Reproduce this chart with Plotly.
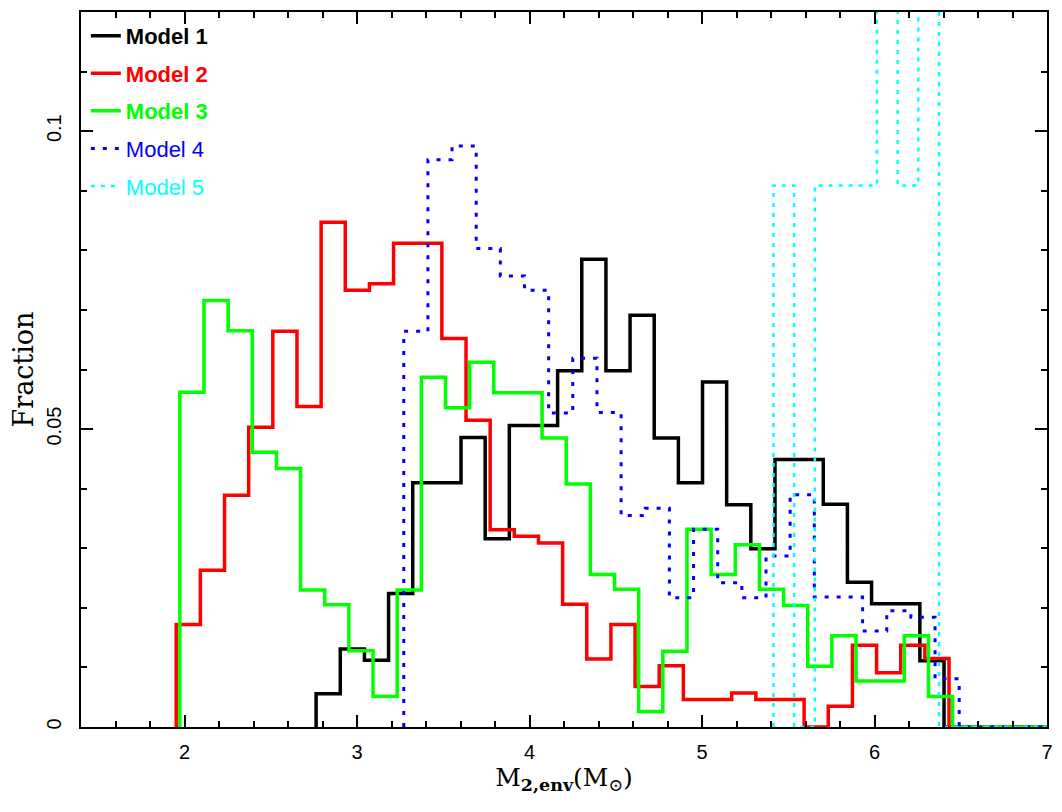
import numpy as np
import plotly.graph_objects as go

# histogram fractions per model
BIN_WIDTH = 0.14
X_MAX = 7.0

model_names = ["Model 1", "Model 2", "Model 3", "Model 4", "Model 5"]
model_colors = ["#000000", "#ff0000", "#00ff00", "#0000ff", "#00ffff"]

black_start = 2.763
black_values = [0.0056, 0.0131, 0.0112, 0.0224, 0.0410, 0.0410, 0.0486, 0.0316, 0.0506,
                0.0506, 0.0598, 0.0785, 0.0598, 0.0691, 0.0485, 0.0410, 0.0579, 0.0373,
                0.0299, 0.0449, 0.0449, 0.0374, 0.0243, 0.0207, 0.0207, 0.0111]

red_start = 1.952
red_values = [0.0172, 0.0263, 0.0389, 0.0503, 0.0664, 0.0538, 0.0847, 0.0733, 0.0744,
              0.0812, 0.0812, 0.0652, 0.0515, 0.0331, 0.0320, 0.0309, 0.0206, 0.0114,
              0.0172, 0.0068, 0.0103, 0.0046, 0.0046, 0.0057, 0.0046, 0.0046, 0.0,
              0.0035, 0.0137, 0.0091, 0.0137, 0.0115]

green_start = 1.973
green_values = [0.0562, 0.0716, 0.0665, 0.0461, 0.0434, 0.0230, 0.0205, 0.0128, 0.0051,
                0.0230, 0.0587, 0.0536, 0.0612, 0.0561, 0.0561, 0.0485, 0.0408, 0.0256,
                0.0231, 0.0026, 0.0127, 0.0332, 0.0256, 0.0306, 0.0231, 0.0204, 0.0102,
                0.0153, 0.0077, 0.0077, 0.0153, 0.0051]

blue_start = 3.271
blue_values = [0.0664, 0.0952, 0.0975, 0.0803, 0.0757, 0.0733, 0.0527, 0.0619, 0.0528,
               0.0355, 0.0367, 0.0217, 0.0332, 0.0242, 0.0217, 0.0287, 0.0390, 0.0218,
               0.0218, 0.0161, 0.0195, 0.0184, 0.0081]

# model 5 has few systems and a narrower binning; two bins run off the top
cyan_start = 5.414
cyan_width = 0.12
cyan_values = [0.0909, 0.0, 0.0909, 0.0909, 0.0909, 0.2727, 0.0909, 0.2727]

x_tick_vals = [2, 3, 4, 5, 6, 7]
y_tick_vals = [0, 0.05, 0.1]


def step_xy(start, width, values):
    edges = start + width * np.arange(len(values) + 1)
    xs = [edges[0]] + list(edges[:-1]) + [edges[-1], X_MAX]
    ys = [0.0] + list(values) + [0.0, 0.0]
    return xs, ys


series = [
    (black_start, BIN_WIDTH, black_values, "solid", 3.5, True),
    (red_start, BIN_WIDTH, red_values, "solid", 3.5, True),
    (green_start, BIN_WIDTH, green_values, "solid", 3.5, True),
    (blue_start, BIN_WIDTH, blue_values, "4px,8px", 3, False),
    (cyan_start, cyan_width, cyan_values, "4px,6px", 2.5, False),
]

fig = go.Figure()
for i, (start, width, values, dash, lw, bold) in enumerate(series):
    xs, ys = step_xy(start, width, values)
    label = f"<span style='color:{model_colors[i]}'>{model_names[i]}</span>"
    if bold:
        label = f"<b>{label}</b>"
    fig.add_trace(
        go.Scatter(
            x=xs,
            y=ys,
            mode="lines",
            line={"color": model_colors[i], "width": lw, "dash": dash, "shape": "hv"},
            name=label,
            legendgroup=f"m{i}",
            hoverinfo="skip",
        )
    )

axis_common = dict(
    showgrid=False,
    zeroline=False,
    showline=True,
    linecolor="black",
    linewidth=2,
    mirror="allticks",
    ticks="inside",
    tickwidth=1.5,
    tickcolor="black",
    ticklen=12,
    tickfont={"family": "Liberation Sans", "size": 20, "color": "black"},
)

fig.update_xaxes(
    **axis_common,
    range=[1.4, X_MAX],
    tickvals=x_tick_vals,
    minor={"dtick": 0.2, "tick0": 0, "ticks": "inside", "ticklen": 6, "tickwidth": 1.5,
           "tickcolor": "black"},
    ticklabelstandoff=6,
    title={
        "text": "M<sub><b>2,env</b></sub>(M<sub>⊙</sub>)",
        "font": {"family": "DejaVu Serif", "size": 25, "color": "black"},
        "standoff": 6,
    },
)
fig.update_yaxes(
    **axis_common,
    range=[0, 0.12],
    tickvals=y_tick_vals,
    ticktext=["0", "0.05", "0.1"],
    tickangle=-90,
    minor={"dtick": 0.01, "tick0": 0, "ticks": "inside", "ticklen": 6, "tickwidth": 1.5,
           "tickcolor": "black"},
    ticklabelstandoff=10,
    title={
        "text": "Fraction",
        "font": {"family": "DejaVu Serif", "size": 27, "color": "black"},
        "standoff": 4,
    },
)

# the page adds an 8px body margin, so the figure is a bit smaller than the window
fig.update_layout(
    width=1054,
    height=804,
    margin={"l": 73, "r": 15, "t": 2, "b": 85},
    plot_bgcolor="white",
    paper_bgcolor="white",
    showlegend=True,
    legend={
        "x": 0.005,
        "y": 0.996,
        "xanchor": "left",
        "yanchor": "top",
        "bgcolor": "rgba(0,0,0,0)",
        "font": {"family": "Liberation Sans", "size": 22},
        "itemwidth": 30,
        "tracegroupgap": 6,
    },
)

fig.write_html("out.html")
